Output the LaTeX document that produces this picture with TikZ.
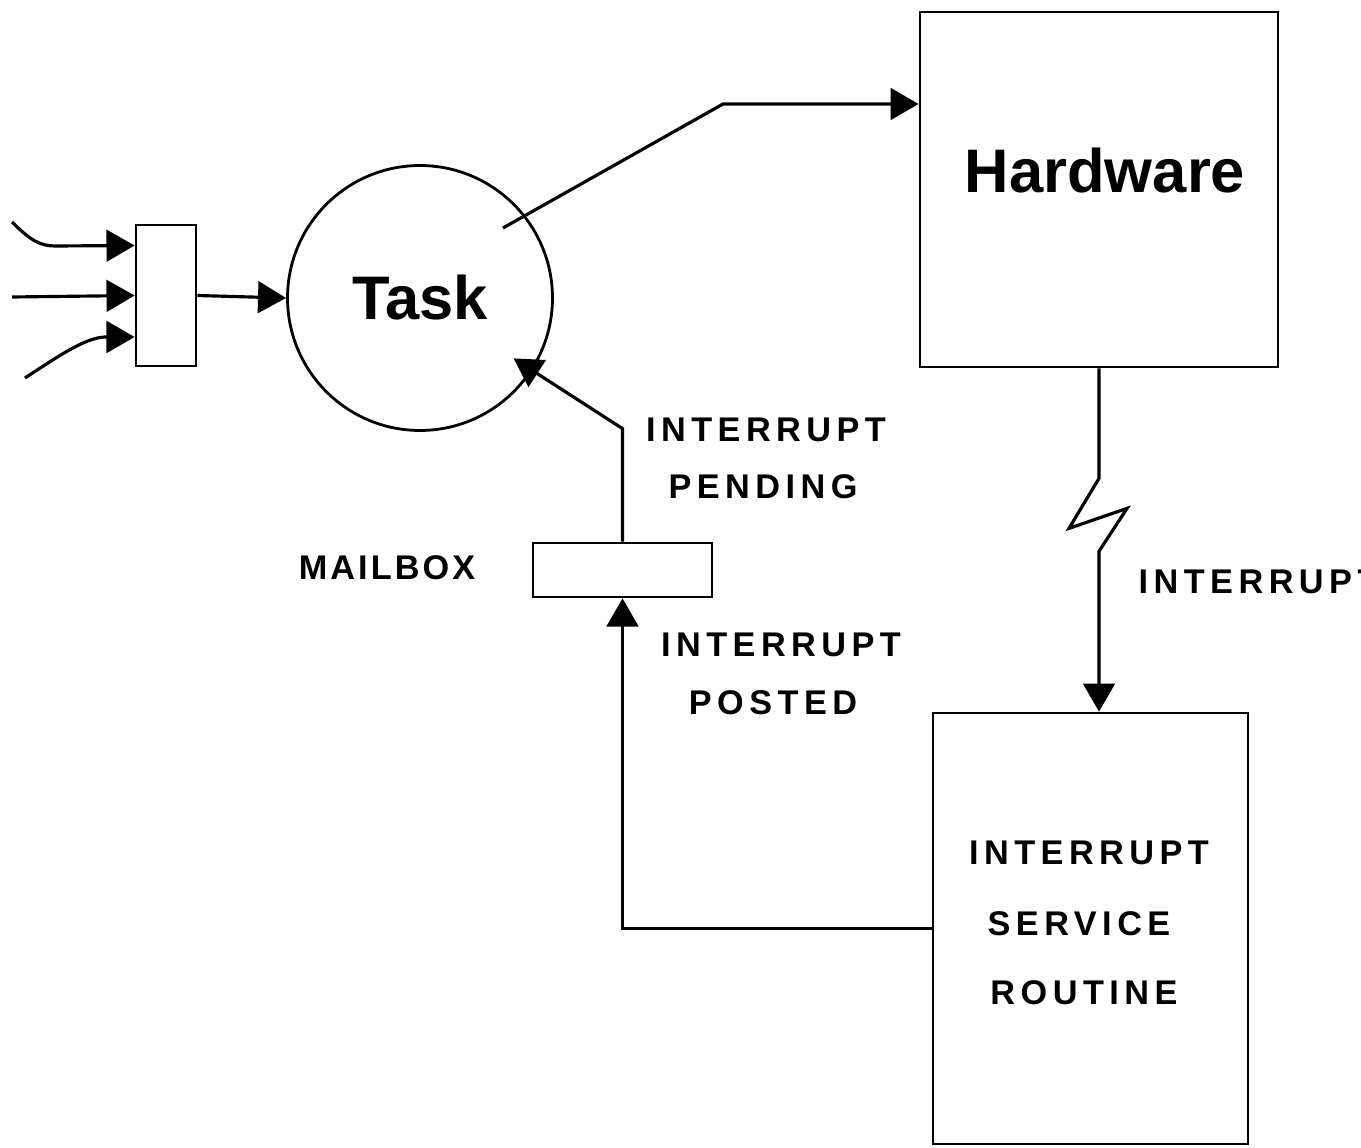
\documentclass[tikz,border=0pt]{standalone}
\usepackage{fontspec}
\setmainfont{Liberation Sans}
\newfontfamily\capsfont[LetterSpace=16]{Liberation Sans}
\newfontfamily\mailfont[LetterSpace=9]{Liberation Sans}
\usetikzlibrary{arrows.meta}

\begin{document}
\begin{tikzpicture}[x=0.02cm, y=-0.02cm, >={Triangle[length=16pt, width=18pt]}, line width=1.8pt,
		box/.style={draw, rectangle, line width=1.6pt, inner sep=0pt},
		big/.style={font=\bfseries\fontsize{35}{40}\selectfont},
		caps/.style={font=\capsfont\bfseries\fontsize{19.5}{22}\selectfont, inner sep=0pt},
		mailcaps/.style={font=\mailfont\bfseries\fontsize{19.5}{22}\selectfont, inner sep=0pt}]
	% 画面范围
	\clip (0,0) rectangle (1361,1148);
	
	% 1. 任务圆与各方框
	\node[circle, draw, line width=1.6pt, minimum size=5.3cm, big] (task) at (420,298) {Task};
	\node[box, minimum width=1.2cm, minimum height=2.82cm] (inbox) at (166,295.5) {};
	\node[box, minimum width=7.16cm, minimum height=7.1cm] (hw) at (1099,189.5) {};
	\node[big] (hwtext) at (1105,171) {Hardware};
	\node[box, minimum width=3.58cm, minimum height=1.08cm] (mbox) at (622.5,570) {};
	\node[box, minimum width=6.3cm, minimum height=8.62cm] (isr) at (1090.5,928.5) {};
	
	% 2. 方框内文字与标签
	\node[caps] (isrA) at (1089,853) {INTERRUPT};
	\node[caps] (isrB) at (1079,924) {SERVICE};
	\node[caps] (isrC) at (1084,993) {ROUTINE};
	\node[caps] (pendA) at (766,430) {INTERRUPT};
	\node[caps] (pendB) at (763,487) {PENDING};
	\node[mailcaps] (mlabel) at (387,568) {MAILBOX};
	\node[caps] (postA) at (781,645) {INTERRUPT};
	\node[caps] (postB) at (773,703) {POSTED};
	\node[caps, anchor=west] (irq) at (1137,582) {INTERRUPT};
	
	% 3. 输入箭头
	\coordinate (inA) at (12,222);
	\coordinate (inB) at (12,297);
	\coordinate (inC) at (25,378);
	\draw[->] (inA) .. controls (30,240) and (40,246) .. (55,246) -- ([yshift=1cm]inbox.west);
	\draw[->] (inB) -- (inbox.west);
	\draw[->] (inC) .. controls (60,355) and (85,338) .. (105,337) -- ([yshift=-0.83cm]inbox.west);
	\draw[->] (inbox.east) -- (task.west);
	
	% 4. 任务到硬件, 硬件中断到服务程序
	\coordinate (tout) at ([shift={(83,-70)}]task.center);
	\coordinate (bend) at (723,104);
	\draw[->] (tout) -- (bend) -- (hw.west |- bend);
	\draw[->] (hw.south) -- ++(0,110) -- ++(-30,50) -- ++(58,-20) -- ++(-28,43) -- (hw.south |- isr.north);
	
	% 5. 邮箱回路
	\draw[->] (isr.west) -| (mbox.south);
	\draw[->, shorten >=-0.45cm] (mbox.north) -- ++(0,-113) -- (task);
\end{tikzpicture}
\end{document}
